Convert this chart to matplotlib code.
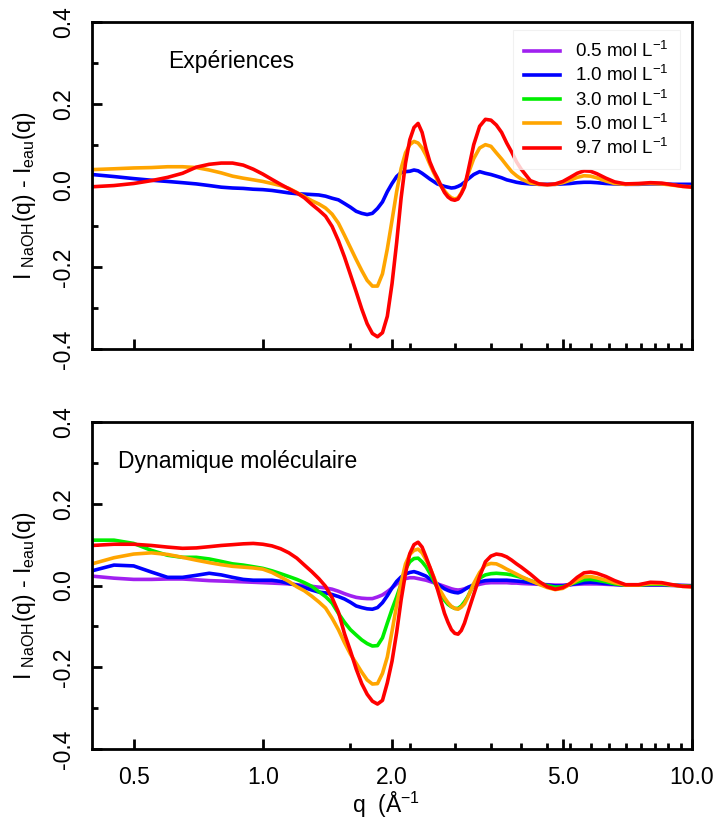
import matplotlib
matplotlib.use("Agg")
import matplotlib.pyplot as plt
from matplotlib.ticker import FixedLocator, FixedFormatter, NullFormatter

plt.rcParams['font.family'] = ['Liberation Sans', 'DejaVu Sans']
plt.rcParams['mathtext.default'] = 'regular'
plt.rcParams['axes.unicode_minus'] = False

# ---------------- data ----------------
q = [0.40, 0.45, 0.50, 0.55, 0.60, 0.65, 0.70, 0.75, 0.80, 0.85, 0.90, 0.95, 1.00,
     1.05, 1.10, 1.15, 1.20, 1.25, 1.30, 1.35, 1.40, 1.45, 1.50, 1.55, 1.60, 1.65,
     1.70, 1.75, 1.80, 1.85, 1.90, 1.95, 2.00, 2.05, 2.10, 2.15, 2.20, 2.25, 2.30,
     2.35, 2.40, 2.45, 2.50, 2.55, 2.60, 2.65, 2.70, 2.75, 2.80, 2.85, 2.90, 2.95,
     3.00, 3.10, 3.20, 3.30, 3.40, 3.50, 3.60, 3.70, 3.80, 3.90, 4.00, 4.20, 4.40,
     4.60, 4.80, 5.00, 5.20, 5.40, 5.60, 5.80, 6.00, 6.30, 6.60, 7.00, 7.50, 8.00,
     8.50, 9.00, 9.50, 10.0]

# Experiments
exp_10 = [0.027, 0.022, 0.017, 0.013, 0.010, 0.007, 0.004, 0.000, -0.004, -0.006, -0.007, -0.009, -0.010,
          -0.012, -0.015, -0.018, -0.020, -0.021, -0.022, -0.023, -0.026, -0.031, -0.035, -0.044, -0.053, -0.063,
          -0.068, -0.071, -0.068, -0.056, -0.040, -0.015, 0.005, 0.022, 0.032, 0.034, 0.035, 0.038, 0.036,
          0.030, 0.023, 0.016, 0.010, 0.004, 0.001, -0.002, -0.004, -0.006, -0.005, -0.002, 0.002, 0.008,
          0.015, 0.027, 0.034, 0.030, 0.027, 0.023, 0.019, 0.014, 0.011, 0.008, 0.006, 0.004, 0.003,
          0.003, 0.003, 0.004, 0.005, 0.007, 0.008, 0.008, 0.007, 0.005, 0.004, 0.003, 0.003, 0.004,
          0.004, 0.003, 0.003, 0.003]
exp_50 = [0.039, 0.041, 0.043, 0.044, 0.046, 0.046, 0.044, 0.038, 0.031, 0.023, 0.018, 0.014, 0.010,
          0.005, 0.000, -0.007, -0.017, -0.027, -0.037, -0.045, -0.055, -0.070, -0.092, -0.122, -0.152, -0.181,
          -0.208, -0.232, -0.246, -0.246, -0.216, -0.155, -0.085, -0.015, 0.042, 0.080, 0.100, 0.108, 0.104,
          0.092, 0.074, 0.052, 0.032, 0.014, -0.001, -0.013, -0.023, -0.030, -0.033, -0.030, -0.018, 0.000,
          0.025, 0.066, 0.092, 0.100, 0.096, 0.080, 0.065, 0.049, 0.034, 0.024, 0.016, 0.006, 0.003,
          0.002, 0.003, 0.007, 0.013, 0.020, 0.024, 0.023, 0.019, 0.011, 0.005, 0.003, 0.004, 0.005,
          0.004, 0.001, -0.002, -0.003]
exp_97 = [-0.003, 0.000, 0.005, 0.012, 0.020, 0.030, 0.045, 0.052, 0.055, 0.055, 0.050, 0.040, 0.028,
          0.015, 0.003, -0.008, -0.018, -0.030, -0.046, -0.060, -0.075, -0.100, -0.135, -0.175, -0.218, -0.260,
          -0.302, -0.338, -0.362, -0.370, -0.360, -0.320, -0.240, -0.140, -0.030, 0.055, 0.112, 0.142, 0.152,
          0.130, 0.090, 0.058, 0.036, 0.019, 0.000, -0.017, -0.028, -0.034, -0.036, -0.033, -0.020, -0.004,
          0.030, 0.100, 0.145, 0.162, 0.160, 0.148, 0.130, 0.104, 0.082, 0.058, 0.040, 0.012, 0.004,
          0.002, 0.004, 0.010, 0.020, 0.030, 0.036, 0.035, 0.029, 0.018, 0.009, 0.004, 0.005, 0.007,
          0.006, 0.002, -0.002, -0.004]

# Molecular dynamics
md_05 = [0.023, 0.018, 0.015, 0.015, 0.016, 0.016, 0.014, 0.012, 0.011, 0.010, 0.009, 0.008, 0.007,
         0.006, 0.005, 0.004, 0.002, 0.000, -0.002, -0.004, -0.006, -0.009, -0.014, -0.020, -0.025, -0.029,
         -0.031, -0.032, -0.032, -0.028, -0.023, -0.015, -0.006, 0.004, 0.012, 0.017, 0.019, 0.019, 0.017,
         0.015, 0.013, 0.010, 0.007, 0.004, 0.001, -0.002, -0.005, -0.008, -0.010, -0.011, -0.010, -0.008,
         -0.005, -0.001, 0.003, 0.006, 0.007, 0.007, 0.007, 0.007, 0.006, 0.006, 0.005, 0.004, 0.003,
         0.002, 0.001, 0.001, 0.002, 0.003, 0.004, 0.004, 0.004, 0.003, 0.002, 0.001, 0.001, 0.001,
         0.001, 0.000, 0.000, 0.000]
md_10 = [0.036, 0.050, 0.048, 0.033, 0.020, 0.020, 0.025, 0.030, 0.026, 0.020, 0.015, 0.013, 0.013,
         0.013, 0.010, 0.005, 0.001, -0.005, -0.011, -0.016, -0.018, -0.022, -0.027, -0.033, -0.041, -0.050,
         -0.054, -0.057, -0.058, -0.054, -0.042, -0.025, -0.006, 0.010, 0.021, 0.028, 0.032, 0.034, 0.031,
         0.027, 0.023, 0.016, 0.010, 0.004, -0.002, -0.008, -0.012, -0.015, -0.017, -0.018, -0.015, -0.010,
         -0.005, 0.002, 0.009, 0.012, 0.013, 0.013, 0.013, 0.013, 0.012, 0.011, 0.010, 0.007, 0.004,
         0.001, -0.001, -0.001, 0.002, 0.005, 0.007, 0.008, 0.007, 0.005, 0.003, 0.001, 0.001, 0.002,
         0.002, 0.001, 0.000, -0.001]
md_30 = [0.111, 0.111, 0.103, 0.086, 0.074, 0.069, 0.069, 0.065, 0.059, 0.053, 0.050, 0.046, 0.042,
         0.036, 0.029, 0.022, 0.015, 0.007, -0.002, -0.015, -0.027, -0.043, -0.068, -0.090, -0.108, -0.121,
         -0.133, -0.142, -0.148, -0.147, -0.128, -0.092, -0.058, -0.028, 0.004, 0.040, 0.058, 0.066, 0.067,
         0.058, 0.046, 0.030, 0.012, -0.005, -0.020, -0.036, -0.046, -0.052, -0.056, -0.056, -0.050, -0.040,
         -0.028, 0.003, 0.018, 0.026, 0.029, 0.030, 0.029, 0.028, 0.026, 0.023, 0.020, 0.012, 0.005,
         0.000, -0.004, -0.003, 0.003, 0.009, 0.014, 0.015, 0.013, 0.009, 0.004, 0.001, 0.001, 0.003,
         0.003, 0.001, -0.001, -0.002]
md_50 = [0.053, 0.068, 0.077, 0.080, 0.076, 0.069, 0.062, 0.056, 0.051, 0.047, 0.045, 0.043, 0.040,
         0.032, 0.021, 0.010, -0.003, -0.013, -0.026, -0.040, -0.055, -0.080, -0.108, -0.140, -0.168, -0.190,
         -0.212, -0.231, -0.241, -0.240, -0.215, -0.175, -0.112, -0.048, 0.008, 0.053, 0.076, 0.086, 0.089,
         0.080, 0.063, 0.045, 0.022, -0.001, -0.015, -0.030, -0.042, -0.051, -0.056, -0.058, -0.053, -0.045,
         -0.030, 0.005, 0.032, 0.050, 0.054, 0.053, 0.047, 0.040, 0.034, 0.028, 0.022, 0.012, 0.003,
         -0.005, -0.010, -0.007, 0.003, 0.013, 0.021, 0.022, 0.019, 0.013, 0.007, 0.001, 0.001, 0.005,
         0.005, 0.001, -0.002, -0.003]
md_97 = [0.098, 0.101, 0.101, 0.098, 0.094, 0.091, 0.092, 0.095, 0.098, 0.100, 0.102, 0.103, 0.101,
         0.097, 0.090, 0.080, 0.067, 0.050, 0.034, 0.017, -0.002, -0.030, -0.065, -0.118, -0.160, -0.204,
         -0.240, -0.266, -0.283, -0.290, -0.281, -0.238, -0.185, -0.115, -0.035, 0.030, 0.078, 0.100, 0.106,
         0.094, 0.070, 0.045, 0.020, -0.008, -0.038, -0.068, -0.090, -0.108, -0.117, -0.119, -0.110, -0.092,
         -0.068, -0.022, 0.022, 0.058, 0.072, 0.077, 0.075, 0.070, 0.062, 0.053, 0.045, 0.028, 0.010,
         -0.003, -0.009, -0.005, 0.005, 0.020, 0.031, 0.033, 0.030, 0.022, 0.012, 0.002, 0.002, 0.008,
         0.007, 0.002, -0.002, -0.003]

labels = ["0.5 mol L$^{-1}$", "1.0 mol L$^{-1}$", "3.0 mol L$^{-1}$",
          "5.0 mol L$^{-1}$", "9.7 mol L$^{-1}$"]
colors = ["#a020f0", "#0000ff", "#00ee00", "#ffa500", "#ff0000"]

xticks_major = [0.5, 1.0, 2.0, 5.0, 10.0]
xtick_labels = ["0.5", "1.0", "2.0", "5.0", "10.0"]
xticks_minor = [1.6, 2.2, 2.8, 3.4, 4.0, 4.6, 5.2, 5.8, 6.4, 7.0, 7.6, 8.2, 8.8, 9.4]
yticks_major = [-0.4, -0.2, 0.0, 0.2, 0.4]
ytick_labels = ["-0.4", "-0.2", "0.0", "0.2", "0.4"]
yticks_minor = [-0.3, -0.1, 0.1, 0.3]

# ---------------- figure ----------------
fig = plt.figure(figsize=(7.15, 8.23), dpi=100)
ax1 = fig.add_axes([0.1287, 0.5759, 0.8392, 0.3973])
ax2 = fig.add_axes([0.1287, 0.0899, 0.8392, 0.3973])

LW = 2.6
# top: experiments
ax1.plot([], [], color=colors[0], lw=LW, label=labels[0])
ax1.plot(q, exp_10, color=colors[1], lw=LW, label=labels[1])
ax1.plot([], [], color=colors[2], lw=LW, label=labels[2])
ax1.plot(q, exp_50, color=colors[3], lw=LW, label=labels[3])
ax1.plot(q, exp_97, color=colors[4], lw=LW, label=labels[4])

# bottom: MD
for data, c in zip([md_05, md_10, md_30, md_50, md_97], colors):
    ax2.plot(q, data, color=c, lw=LW)

for ax in (ax1, ax2):
    ax.set_xscale('log')
    ax.set_xlim(0.4, 10.0)
    ax.set_ylim(-0.4, 0.4)
    ax.xaxis.set_major_locator(FixedLocator(xticks_major))
    ax.xaxis.set_minor_locator(FixedLocator(xticks_minor))
    ax.xaxis.set_minor_formatter(NullFormatter())
    ax.yaxis.set_major_locator(FixedLocator(yticks_major))
    ax.yaxis.set_major_formatter(FixedFormatter(ytick_labels))
    ax.yaxis.set_minor_locator(FixedLocator(yticks_minor))
    ax.tick_params(which='both', direction='in', top=False, right=False, width=2.0)
    ax.tick_params(which='major', length=7)
    ax.tick_params(which='minor', length=4)
    ax.tick_params(axis='y', which='major', labelsize=16.5, pad=12, labelrotation=90)
    ax.tick_params(axis='x', which='major', labelsize=16.5, pad=12)
    for lab in ax.get_yticklabels():
        lab.set_verticalalignment('center')
    for sp in ax.spines.values():
        sp.set_linewidth(2.0)
    ax.set_ylabel("I $_{NaOH}$(q) - I$_{eau}$(q)", fontsize=16.5)
    ax.yaxis.set_label_coords(-0.09, 0.47)

ax1.xaxis.set_major_formatter(NullFormatter())
ax2.xaxis.set_major_formatter(FixedFormatter(xtick_labels))

ax1.text(0.1267, 0.878, "Expériences", transform=ax1.transAxes,
         fontsize=16.5, va='center', ha='left')
ax2.text(0.0433, 0.878, "Dynamique moléculaire", transform=ax2.transAxes,
         fontsize=16.5, va='center', ha='left')

leg = ax1.legend(loc='upper right', bbox_to_anchor=(0.98, 0.976), borderaxespad=0,
                 fontsize=13.5, frameon=True, fancybox=False, handlelength=1.9,
                 handletextpad=0.8, labelspacing=0.22, borderpad=0.6)
leg.get_frame().set_edgecolor('#eeeeee')
leg.get_frame().set_linewidth(0.8)

ax2.set_xlabel("q  (Å$^{-1}$", fontsize=16.5)
ax2.xaxis.set_label_coords(0.49, -0.125)

fig.savefig("out.png", dpi=100)
